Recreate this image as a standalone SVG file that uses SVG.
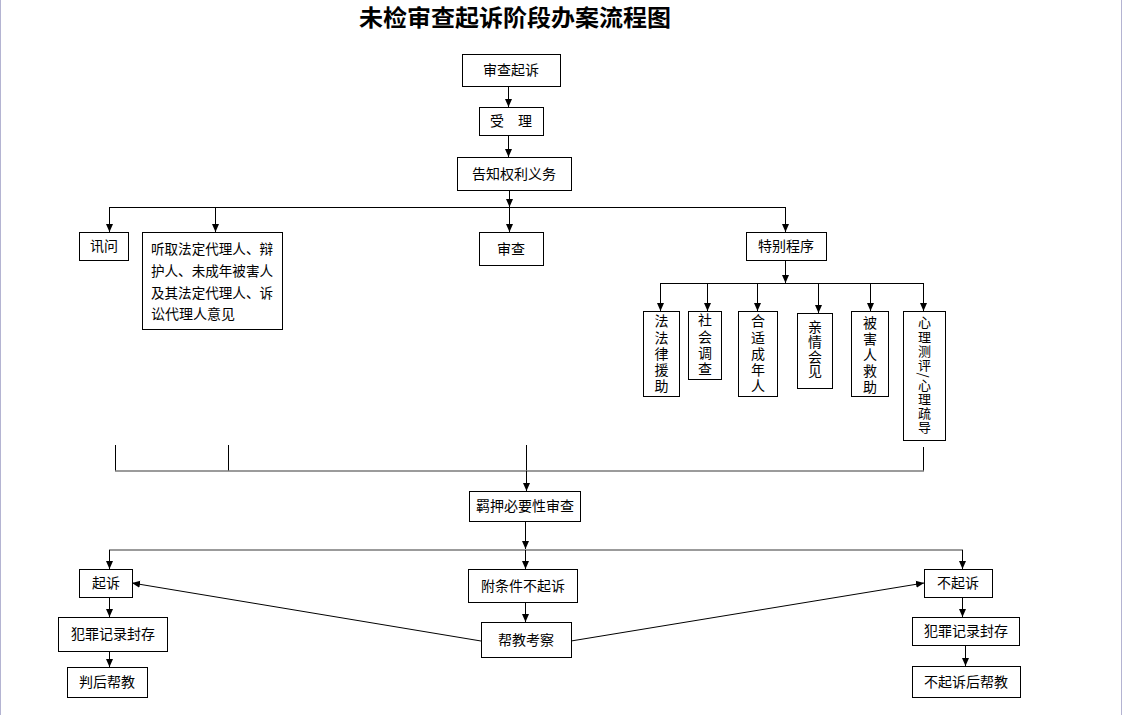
<svg xmlns="http://www.w3.org/2000/svg" width="1123" height="715" viewBox="0 0 1123 715">
<style>
  .box { fill: #ffffff; stroke: #000000; stroke-width: 1; }
  .t { font-family: "Noto Sans CJK SC", "Liberation Sans", sans-serif; font-size: 14px; fill: #000000; }
  .c { text-anchor: middle; }
  .v { font-family: "Noto Sans CJK SC", "Liberation Sans", sans-serif; font-size: 14px; fill: #000000; writing-mode: vertical-rl; text-anchor: start; }
  .title { font-family: "Noto Sans CJK SC", "Liberation Serif", serif; font-size: 23px; font-weight: bold; fill: #000000; text-anchor: middle; }
  .ln { fill: none; stroke: #000000; stroke-width: 1; }
  .bus { fill: none; stroke: #7a7a7a; stroke-width: 1.6; }
  .arr { fill: none; stroke: #000000; stroke-width: 1; marker-end: url(#ah); }
  .border { stroke: #b4b4d2; stroke-width: 1; }
</style>
<defs>
  <marker id="ah" markerUnits="userSpaceOnUse" markerWidth="8" markerHeight="8" refX="8" refY="4" orient="auto">
    <path d="M0,0.5 L8,4 L0,7.5 Z" fill="#000000"/>
  </marker>
</defs>
<rect x="0" y="0" width="1123" height="715" fill="#ffffff"/>
<line class="border" x1="0.5" y1="0" x2="0.5" y2="715"/>
<line class="border" x1="1121.5" y1="0" x2="1121.5" y2="715"/>

<text class="title" x="515" y="26" textLength="312" lengthAdjust="spacingAndGlyphs">未检审查起诉阶段办案流程图</text>

<g id="connectors">
  <path class="arr" d="M508.5,86 V107"/>
  <path class="arr" d="M508.5,135 V157"/>
  <path class="arr" d="M509.5,190 V207"/>
  <path class="ln" d="M109.5,207.5 H785.5"/>
  <path class="arr" d="M109.5,207 V232"/>
  <path class="arr" d="M215.5,207 V232"/>
  <path class="arr" d="M509.5,207 V232"/>
  <path class="arr" d="M785.5,207 V232"/>
  <path class="arr" d="M785.5,260 V283"/>
  <path class="ln" d="M660.5,283.5 H923.5"/>
  <path class="arr" d="M660.5,283 V311"/>
  <path class="arr" d="M707.5,283 V311"/>
  <path class="arr" d="M757.5,283 V311"/>
  <path class="arr" d="M818.5,283 V313"/>
  <path class="arr" d="M870.5,283 V311"/>
  <path class="arr" d="M923.5,283 V311"/>
  <path class="ln" d="M115.5,445 V471"/>
  <path class="ln" d="M228.5,445 V471"/>
  <path class="ln" d="M526.5,445 V471"/>
  <path class="ln" d="M923.5,447 V471"/>
  <path class="bus" d="M115,471 H924"/>
  <path class="arr" d="M526.5,471 V491"/>
  <path class="arr" d="M525.5,521 V549"/>
  <path class="bus" d="M109,550 H963"/>
  <path class="arr" d="M109.5,550 V569"/>
  <path class="arr" d="M525.5,550 V569"/>
  <path class="arr" d="M962.5,550 V569"/>
  <path class="arr" d="M109.5,597 V617"/>
  <path class="arr" d="M109.5,651 V667"/>
  <path class="arr" d="M525.5,602 V622"/>
  <path class="arr" d="M962.5,597 V617"/>
  <path class="arr" d="M965.5,645 V666"/>
  <path class="arr" d="M481,641 L132,583"/>
  <path class="arr" d="M571,641 L924,583"/>
</g>

<g id="n1"><rect class="box" x="462.5" y="54.5" width="98" height="32"/><text class="t c" x="511" y="75">审查起诉</text></g>
<g id="n2"><rect class="box" x="479.5" y="107.5" width="64" height="28"/><text class="t c" x="511" y="126">受　理</text></g>
<g id="n3"><rect class="box" x="457.5" y="157.5" width="114" height="33"/><text class="t c" x="514" y="179">告知权利义务</text></g>
<g id="n4"><rect class="box" x="79.5" y="232.5" width="49" height="28"/><text class="t c" x="104" y="251">讯问</text></g>
<g id="n5"><rect class="box" x="142.5" y="232.5" width="140" height="97"/>
  <text class="t" x="151" y="254" textLength="122" lengthAdjust="spacingAndGlyphs">听取法定代理人、辩</text>
  <text class="t" x="151" y="276" textLength="122" lengthAdjust="spacingAndGlyphs">护人、未成年被害人</text>
  <text class="t" x="151" y="298" textLength="122" lengthAdjust="spacingAndGlyphs">及其法定代理人、诉</text>
  <text class="t" x="151" y="319">讼代理人意见</text>
</g>
<g id="n6"><rect class="box" x="479.5" y="232.5" width="64" height="33"/><text class="t c" x="511" y="254">审查</text></g>
<g id="n7"><rect class="box" x="746.5" y="232.5" width="80" height="28"/><text class="t c" x="786" y="251">特别程序</text></g>

<g id="n8"><rect class="box" x="643.5" y="311.5" width="36" height="85"/>
  <text class="v" x="661.5" y="314" textLength="79" lengthAdjust="spacing">法法律援助</text>
</g>
<g id="n9"><rect class="box" x="688.5" y="311.5" width="33" height="68"/>
  <text class="v" x="705" y="313" textLength="63" lengthAdjust="spacing">社会调查</text>
</g>
<g id="n10"><rect class="box" x="738.5" y="311.5" width="39" height="85"/>
  <text class="v" x="758" y="314" textLength="79" lengthAdjust="spacing">合适成年人</text>
</g>
<g id="n11"><rect class="box" x="797.5" y="313.5" width="35" height="75"/>
  <text class="v" x="815" y="320" textLength="58" lengthAdjust="spacing">亲情会见</text>
</g>
<g id="n12"><rect class="box" x="851.5" y="311.5" width="37" height="85"/>
  <text class="v" x="870" y="316" textLength="78" lengthAdjust="spacing">被害人救助</text>
</g>
<g id="n13"><rect class="box" x="903.5" y="311.5" width="42" height="129"/>
  <text class="v" x="924.5" y="316" style="font-size:13px" textLength="118" lengthAdjust="spacing">心理测评/心理疏导</text>
</g>

<g id="n14"><rect class="box" x="469.5" y="491.5" width="111" height="30"/><text class="t c" x="525" y="511">羁押必要性审查</text></g>
<g id="n15"><rect class="box" x="79.5" y="569.5" width="53" height="28"/><text class="t c" x="106" y="588">起诉</text></g>
<g id="n16"><rect class="box" x="468.5" y="569.5" width="109" height="33"/><text class="t c" x="523" y="591">附条件不起诉</text></g>
<g id="n17"><rect class="box" x="924.5" y="569.5" width="68" height="28"/><text class="t c" x="958" y="588">不起诉</text></g>
<g id="n18"><rect class="box" x="58.5" y="617.5" width="109" height="34"/><text class="t c" x="113" y="639">犯罪记录封存</text></g>
<g id="n19"><rect class="box" x="481.5" y="622.5" width="90" height="35"/><text class="t c" x="526" y="645">帮教考察</text></g>
<g id="n20"><rect class="box" x="912.5" y="617.5" width="107" height="28"/><text class="t c" x="966" y="636">犯罪记录封存</text></g>
<g id="n21"><rect class="box" x="67.5" y="667.5" width="80" height="30"/><text class="t c" x="107" y="687">判后帮教</text></g>
<g id="n22"><rect class="box" x="912.5" y="666.5" width="108" height="31"/><text class="t c" x="966" y="687">不起诉后帮教</text></g>
</svg>
